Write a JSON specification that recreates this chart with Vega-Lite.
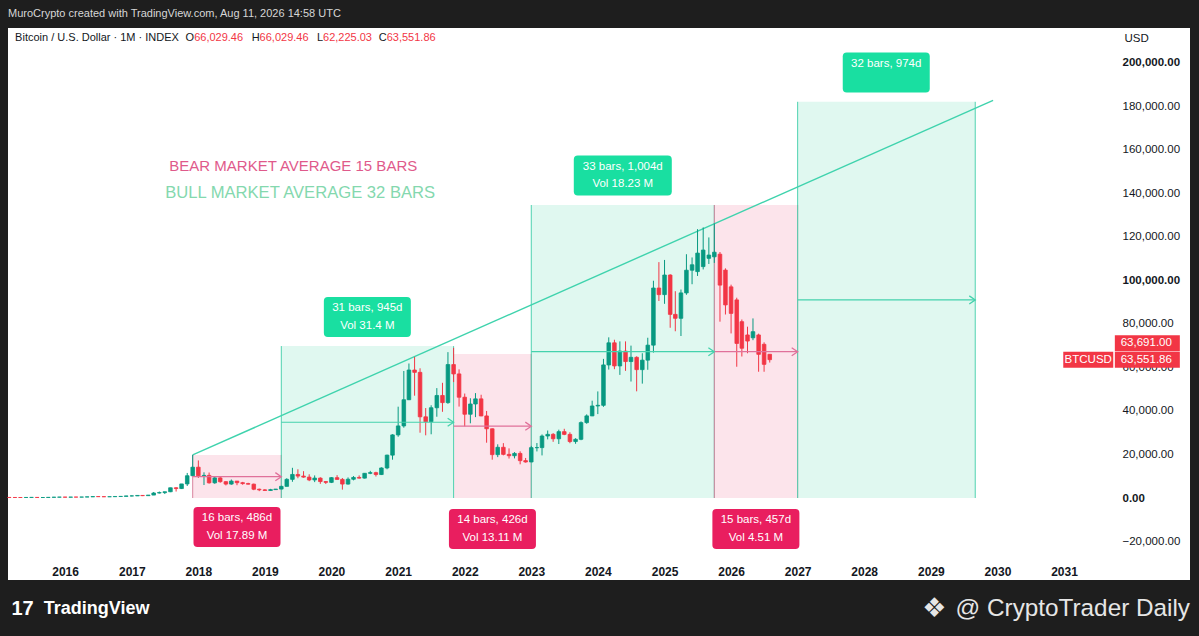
{
  "$schema": "https://vega.github.io/schema/vega-lite/v6.json",
  "width": 1182,
  "height": 552,
  "autosize": {"type": "none"},
  "padding": {"left": 8, "top": 28, "right": 9, "bottom": 56},
  "background": "#1e1e1e",
  "title": {
    "text": "MuroCrypto created with TradingView.com, Aug 11, 2026 14:58 UTC",
    "anchor": "start",
    "frame": "group",
    "color": "#d6d6d6",
    "fontSize": 11,
    "fontWeight": "normal",
    "offset": 9
  },
  "config": {
    "font": "Liberation Sans",
    "view": {"fill": "#ffffff", "stroke": null},
    "axis": {"grid": false, "domain": false, "ticks": false, "tickSize": 0}
  },
  "datasets": {
    "ranges": [
      {"kind": "bear", "start": "2017-12-01", "end": "2019-04-01", "low": 0, "top": 19800, "arrow": 9800, "mid": "2018-08-01", "lp": -13300, "label": "16 bars, 486d\nVol 17.89 M"},
      {"kind": "bull", "start": "2019-04-01", "end": "2021-11-01", "low": 0, "top": 69800, "arrow": 34800, "mid": "2020-07-16", "lp": 83100, "label": "31 bars, 945d\nVol 31.4 M"},
      {"kind": "bear", "start": "2021-11-01", "end": "2023-01-01", "low": 0, "top": 66200, "arrow": 33000, "mid": "2022-06-02", "lp": -14200, "label": "14 bars, 426d\nVol 13.11 M"},
      {"kind": "bull", "start": "2023-01-01", "end": "2025-10-01", "low": 0, "top": 134600, "arrow": 67200, "mid": "2024-05-17", "lp": 148100, "label": "33 bars, 1,004d\nVol 18.23 M"},
      {"kind": "bear", "start": "2025-10-01", "end": "2027-01-01", "low": 0, "top": 134600, "arrow": 67200, "mid": "2026-05-17", "lp": -14200, "label": "15 bars, 457d\nVol 4.51 M"},
      {"kind": "bull", "start": "2027-01-01", "end": "2029-09-01", "low": 0, "top": 182000, "arrow": 91000, "mid": "2028-05-01", "lp": 195500, "label": "32 bars, 974d\n "}
    ],
    "trend": [
      {"d": "2017-12-01", "p": 19800},
      {"d": "2029-12-08", "p": 182700}
    ],
    "notes": [
      {"kind": "bear", "d": "2017-07-26", "p": 152500, "t": "BEAR MARKET AVERAGE 15 BARS"},
      {"kind": "bull", "d": "2017-07-03", "p": 140000, "t": "BULL MARKET AVERAGE 32 BARS"}
    ],
    "header": [
      {"kind": "name", "d": "2015-04-02", "t": "Bitcoin / U.S. Dollar · 1M · INDEX"},
      {"kind": "name", "d": "2017-10-23", "t": "O"},
      {"kind": "value", "d": "2017-12-09", "t": "66,029.46"},
      {"kind": "name", "d": "2018-10-21", "t": "H"},
      {"kind": "value", "d": "2018-12-03", "t": "66,029.46"},
      {"kind": "name", "d": "2019-10-14", "t": "L"},
      {"kind": "value", "d": "2019-11-16", "t": "62,225.03"},
      {"kind": "name", "d": "2020-09-17", "t": "C"},
      {"kind": "value", "d": "2020-10-30", "t": "63,551.86"}
    ],
    "quotes": [
      {"sym": "BTCUSD", "role": "last", "p": 63551.86, "t": "63,551.86"},
      {"sym": "BTCUSD", "role": "ask", "p": 63691, "t": "63,691.00"}
    ],
    "candles": [
      {"d": "2015-03-01", "o": 254, "h": 300, "l": 235, "c": 244},
      {"d": "2015-04-01", "o": 244, "h": 262, "l": 210, "c": 236},
      {"d": "2015-05-01", "o": 236, "h": 248, "l": 225, "c": 230},
      {"d": "2015-06-01", "o": 230, "h": 268, "l": 218, "c": 263},
      {"d": "2015-07-01", "o": 263, "h": 317, "l": 253, "c": 284},
      {"d": "2015-08-01", "o": 284, "h": 285, "l": 198, "c": 230},
      {"d": "2015-09-01", "o": 230, "h": 260, "l": 225, "c": 236},
      {"d": "2015-10-01", "o": 236, "h": 327, "l": 235, "c": 314},
      {"d": "2015-11-01", "o": 314, "h": 503, "l": 309, "c": 377},
      {"d": "2015-12-01", "o": 377, "h": 467, "l": 349, "c": 430},
      {"d": "2016-01-01", "o": 430, "h": 462, "l": 354, "c": 368},
      {"d": "2016-02-01", "o": 368, "h": 448, "l": 367, "c": 437},
      {"d": "2016-03-01", "o": 437, "h": 439, "l": 407, "c": 416},
      {"d": "2016-04-01", "o": 416, "h": 467, "l": 414, "c": 448},
      {"d": "2016-05-01", "o": 448, "h": 549, "l": 436, "c": 531},
      {"d": "2016-06-01", "o": 531, "h": 779, "l": 528, "c": 673},
      {"d": "2016-07-01", "o": 673, "h": 705, "l": 610, "c": 624},
      {"d": "2016-08-01", "o": 624, "h": 627, "l": 533, "c": 575},
      {"d": "2016-09-01", "o": 575, "h": 629, "l": 567, "c": 609},
      {"d": "2016-10-01", "o": 609, "h": 732, "l": 602, "c": 698},
      {"d": "2016-11-01", "o": 698, "h": 756, "l": 679, "c": 742},
      {"d": "2016-12-01", "o": 742, "h": 979, "l": 740, "c": 963},
      {"d": "2017-01-01", "o": 963, "h": 1191, "l": 752, "c": 970},
      {"d": "2017-02-01", "o": 970, "h": 1211, "l": 935, "c": 1190},
      {"d": "2017-03-01", "o": 1190, "h": 1292, "l": 892, "c": 1080},
      {"d": "2017-04-01", "o": 1080, "h": 1366, "l": 1076, "c": 1350},
      {"d": "2017-05-01", "o": 1350, "h": 2763, "l": 1342, "c": 2300},
      {"d": "2017-06-01", "o": 2300, "h": 2980, "l": 2084, "c": 2480},
      {"d": "2017-07-01", "o": 2480, "h": 2917, "l": 1827, "c": 2875},
      {"d": "2017-08-01", "o": 2875, "h": 4736, "l": 2705, "c": 4703},
      {"d": "2017-09-01", "o": 4703, "h": 4979, "l": 2972, "c": 4339},
      {"d": "2017-10-01", "o": 4339, "h": 6470, "l": 4130, "c": 6468},
      {"d": "2017-11-01", "o": 6468, "h": 11518, "l": 5519, "c": 10233},
      {"d": "2017-12-01", "o": 10233, "h": 19800, "l": 10233, "c": 14157},
      {"d": "2018-01-01", "o": 14157, "h": 17254, "l": 9199, "c": 10221},
      {"d": "2018-02-01", "o": 10221, "h": 11800, "l": 5968, "c": 10397},
      {"d": "2018-03-01", "o": 10397, "h": 11711, "l": 6607, "c": 6973},
      {"d": "2018-04-01", "o": 6973, "h": 9759, "l": 6526, "c": 9240},
      {"d": "2018-05-01", "o": 9240, "h": 10018, "l": 7034, "c": 7494},
      {"d": "2018-06-01", "o": 7494, "h": 7755, "l": 5780, "c": 6404},
      {"d": "2018-07-01", "o": 6404, "h": 8507, "l": 6105, "c": 7780},
      {"d": "2018-08-01", "o": 7780, "h": 7785, "l": 5880, "c": 7037},
      {"d": "2018-09-01", "o": 7037, "h": 7410, "l": 6100, "c": 6626},
      {"d": "2018-10-01", "o": 6626, "h": 7000, "l": 6200, "c": 6365},
      {"d": "2018-11-01", "o": 6365, "h": 6610, "l": 3600, "c": 4039},
      {"d": "2018-12-01", "o": 4039, "h": 4310, "l": 3150, "c": 3742},
      {"d": "2019-01-01", "o": 3742, "h": 4120, "l": 3390, "c": 3457},
      {"d": "2019-02-01", "o": 3457, "h": 4200, "l": 3400, "c": 3854},
      {"d": "2019-03-01", "o": 3854, "h": 4110, "l": 3710, "c": 4105},
      {"d": "2019-04-01", "o": 4105, "h": 5640, "l": 4100, "c": 5350},
      {"d": "2019-05-01", "o": 5350, "h": 9090, "l": 5330, "c": 8575},
      {"d": "2019-06-01", "o": 8575, "h": 13880, "l": 7450, "c": 10820},
      {"d": "2019-07-01", "o": 10820, "h": 13200, "l": 9080, "c": 10080},
      {"d": "2019-08-01", "o": 10080, "h": 12330, "l": 9330, "c": 9600},
      {"d": "2019-09-01", "o": 9600, "h": 10900, "l": 7750, "c": 8300},
      {"d": "2019-10-01", "o": 8300, "h": 10380, "l": 7300, "c": 9150},
      {"d": "2019-11-01", "o": 9150, "h": 9520, "l": 6520, "c": 7560},
      {"d": "2019-12-01", "o": 7560, "h": 7750, "l": 6430, "c": 7190},
      {"d": "2020-01-01", "o": 7190, "h": 9590, "l": 6870, "c": 9350},
      {"d": "2020-02-01", "o": 9350, "h": 10500, "l": 8460, "c": 8540},
      {"d": "2020-03-01", "o": 8540, "h": 9200, "l": 3850, "c": 6410},
      {"d": "2020-04-01", "o": 6410, "h": 9460, "l": 6150, "c": 8620},
      {"d": "2020-05-01", "o": 8620, "h": 10070, "l": 8110, "c": 9450},
      {"d": "2020-06-01", "o": 9450, "h": 10380, "l": 8900, "c": 9140},
      {"d": "2020-07-01", "o": 9140, "h": 11450, "l": 8970, "c": 11350},
      {"d": "2020-08-01", "o": 11350, "h": 12470, "l": 10960, "c": 11650},
      {"d": "2020-09-01", "o": 11650, "h": 12070, "l": 9880, "c": 10780},
      {"d": "2020-10-01", "o": 10780, "h": 14100, "l": 10550, "c": 13800},
      {"d": "2020-11-01", "o": 13800, "h": 19900, "l": 13200, "c": 19700},
      {"d": "2020-12-01", "o": 19700, "h": 29300, "l": 17600, "c": 28990},
      {"d": "2021-01-01", "o": 28990, "h": 41950, "l": 28130, "c": 33110},
      {"d": "2021-02-01", "o": 33110, "h": 58350, "l": 32300, "c": 45140},
      {"d": "2021-03-01", "o": 45140, "h": 61790, "l": 45000, "c": 58800},
      {"d": "2021-04-01", "o": 58800, "h": 64850, "l": 47000, "c": 57720},
      {"d": "2021-05-01", "o": 57720, "h": 59590, "l": 30000, "c": 37300},
      {"d": "2021-06-01", "o": 37300, "h": 41330, "l": 28800, "c": 35040},
      {"d": "2021-07-01", "o": 35040, "h": 42600, "l": 29280, "c": 41460},
      {"d": "2021-08-01", "o": 41460, "h": 50480, "l": 37330, "c": 47100},
      {"d": "2021-09-01", "o": 47100, "h": 52920, "l": 39600, "c": 43820},
      {"d": "2021-10-01", "o": 43820, "h": 67000, "l": 43280, "c": 61300},
      {"d": "2021-11-01", "o": 61300, "h": 69000, "l": 53250, "c": 57000},
      {"d": "2021-12-01", "o": 57000, "h": 59100, "l": 42000, "c": 46300},
      {"d": "2022-01-01", "o": 46300, "h": 47990, "l": 32930, "c": 38480},
      {"d": "2022-02-01", "o": 38480, "h": 45820, "l": 34320, "c": 43190},
      {"d": "2022-03-01", "o": 43190, "h": 48190, "l": 37160, "c": 45540},
      {"d": "2022-04-01", "o": 45540, "h": 47440, "l": 37580, "c": 37700},
      {"d": "2022-05-01", "o": 37700, "h": 39980, "l": 25400, "c": 31800},
      {"d": "2022-06-01", "o": 31800, "h": 31960, "l": 17600, "c": 19930},
      {"d": "2022-07-01", "o": 19930, "h": 24670, "l": 18780, "c": 23300},
      {"d": "2022-08-01", "o": 23300, "h": 25210, "l": 19600, "c": 20050},
      {"d": "2022-09-01", "o": 20050, "h": 22800, "l": 18130, "c": 19420},
      {"d": "2022-10-01", "o": 19420, "h": 21090, "l": 18200, "c": 20490},
      {"d": "2022-11-01", "o": 20490, "h": 21450, "l": 15480, "c": 17170},
      {"d": "2022-12-01", "o": 17170, "h": 18390, "l": 16260, "c": 16550},
      {"d": "2023-01-01", "o": 16550, "h": 23950, "l": 16500, "c": 23130},
      {"d": "2023-02-01", "o": 23130, "h": 25250, "l": 21400, "c": 23150},
      {"d": "2023-03-01", "o": 23150, "h": 29190, "l": 19570, "c": 28480},
      {"d": "2023-04-01", "o": 28480, "h": 31000, "l": 26940, "c": 29240},
      {"d": "2023-05-01", "o": 29240, "h": 29820, "l": 25810, "c": 27220},
      {"d": "2023-06-01", "o": 27220, "h": 31390, "l": 24800, "c": 30480},
      {"d": "2023-07-01", "o": 30480, "h": 31800, "l": 28860, "c": 29230},
      {"d": "2023-08-01", "o": 29230, "h": 30200, "l": 25170, "c": 25940},
      {"d": "2023-09-01", "o": 25940, "h": 27480, "l": 24900, "c": 26970},
      {"d": "2023-10-01", "o": 26970, "h": 35200, "l": 26550, "c": 34640},
      {"d": "2023-11-01", "o": 34640, "h": 38420, "l": 34100, "c": 37720},
      {"d": "2023-12-01", "o": 37720, "h": 44700, "l": 37620, "c": 42280},
      {"d": "2024-01-01", "o": 42280, "h": 48970, "l": 38550, "c": 42580},
      {"d": "2024-02-01", "o": 42580, "h": 63910, "l": 41880, "c": 61130},
      {"d": "2024-03-01", "o": 61130, "h": 73800, "l": 59000, "c": 71290},
      {"d": "2024-04-01", "o": 71290, "h": 72700, "l": 59170, "c": 60670},
      {"d": "2024-05-01", "o": 60670, "h": 71950, "l": 56550, "c": 67490},
      {"d": "2024-06-01", "o": 67490, "h": 71950, "l": 58400, "c": 62680},
      {"d": "2024-07-01", "o": 62680, "h": 70000, "l": 53500, "c": 64630},
      {"d": "2024-08-01", "o": 64630, "h": 65100, "l": 49000, "c": 58970},
      {"d": "2024-09-01", "o": 58970, "h": 66500, "l": 52550, "c": 63330},
      {"d": "2024-10-01", "o": 63330, "h": 73620, "l": 58900, "c": 70220},
      {"d": "2024-11-01", "o": 70220, "h": 99800, "l": 66800, "c": 96450},
      {"d": "2024-12-01", "o": 96450, "h": 108350, "l": 90500, "c": 93430},
      {"d": "2025-01-01", "o": 93430, "h": 109360, "l": 89200, "c": 102430},
      {"d": "2025-02-01", "o": 102430, "h": 102780, "l": 78200, "c": 84350},
      {"d": "2025-03-01", "o": 84350, "h": 95000, "l": 76600, "c": 82550},
      {"d": "2025-04-01", "o": 82550, "h": 95760, "l": 74420, "c": 94210},
      {"d": "2025-05-01", "o": 94210, "h": 111980, "l": 93350, "c": 104640},
      {"d": "2025-06-01", "o": 104640, "h": 110500, "l": 98200, "c": 107140},
      {"d": "2025-07-01", "o": 104000, "h": 123500, "l": 102000, "c": 112500},
      {"d": "2025-08-01", "o": 106300, "h": 124300, "l": 105000, "c": 113900},
      {"d": "2025-09-01", "o": 110100, "h": 119700, "l": 107500, "c": 111600},
      {"d": "2025-10-01", "o": 110800, "h": 126200, "l": 108000, "c": 112900},
      {"d": "2025-11-01", "o": 112000, "h": 113000, "l": 81000, "c": 97800},
      {"d": "2025-12-01", "o": 104700, "h": 105500, "l": 84300, "c": 88700},
      {"d": "2026-01-01", "o": 97000, "h": 98000, "l": 75600, "c": 84800},
      {"d": "2026-02-01", "o": 91000, "h": 92000, "l": 60300, "c": 71000},
      {"d": "2026-03-01", "o": 81000, "h": 82000, "l": 65000, "c": 68800},
      {"d": "2026-04-01", "o": 74900, "h": 78700, "l": 66500, "c": 72100},
      {"d": "2026-05-01", "o": 73600, "h": 82500, "l": 72500, "c": 76400},
      {"d": "2026-06-01", "o": 74900, "h": 75500, "l": 58000, "c": 66000},
      {"d": "2026-07-01", "o": 70600, "h": 71500, "l": 58000, "c": 61400},
      {"d": "2026-08-01", "o": 66029.46, "h": 66029.46, "l": 62225.03, "c": 63551.86}
    ]
  },
  "layer": [
    {
      "data": {"name": "ranges"},
      "mark": {"type": "rect"},
      "encoding": {
        "x": {
          "field": "start",
          "type": "temporal",
          "scale": {
            "type": "utc",
            "nice": false,
            "padding": 0,
            "domain": [
              {"year": 2015, "month": 2, "date": 22, "utc": true},
              {"year": 2032, "month": 11, "date": 22, "utc": true}
            ]
          },
          "axis": {
            "orient": "bottom",
            "title": null,
            "values": [
              {"year": 2016, "utc": true}, {"year": 2017, "utc": true}, {"year": 2018, "utc": true},
              {"year": 2019, "utc": true}, {"year": 2020, "utc": true}, {"year": 2021, "utc": true},
              {"year": 2022, "utc": true}, {"year": 2023, "utc": true}, {"year": 2024, "utc": true},
              {"year": 2025, "utc": true}, {"year": 2026, "utc": true}, {"year": 2027, "utc": true},
              {"year": 2028, "utc": true}, {"year": 2029, "utc": true}, {"year": 2030, "utc": true},
              {"year": 2031, "utc": true}
            ],
            "format": "%Y",
            "labelFontWeight": "bold",
            "labelFontSize": 12,
            "labelColor": "#131722",
            "labelPadding": -9,
            "labelBaseline": "middle",
            "labelFlush": false,
            "labelOverlap": false
          }
        },
        "x2": {"field": "end"},
        "y": {
          "field": "top",
          "type": "quantitative",
          "scale": {"domain": [-37660, 215900], "nice": false, "zero": false, "padding": 0},
          "axis": {
            "orient": "right",
            "values": [-20000, 0, 20000, 40000, 60000, 80000, 100000, 120000, 140000, 160000, 180000, 200000],
            "format": ",.2f",
            "labelAlign": "left",
            "labelPadding": -68,
            "labelFontSize": 11.5,
            "labelColor": "#131722",
            "labelFontWeight": {"condition": {"test": "datum.value % 100000 === 0", "value": "bold"}, "value": "normal"},
            "labelFlush": false,
            "labelOverlap": false,
            "title": "USD",
            "titleAngle": 0,
            "titleX": -66,
            "titleY": 10,
            "titleAlign": "left",
            "titleBaseline": "middle",
            "titleFontSize": 11.5,
            "titleFontWeight": "normal",
            "titleColor": "#131722"
          }
        },
        "y2": {"field": "low"},
        "color": {"condition": {"test": "datum.kind === 'bull'", "value": "#e0f8f0"}, "value": "#fce4eb"}
      }
    },
    {
      "data": {"name": "ranges"},
      "transform": [{"filter": "datum.kind === 'bear'"}],
      "mark": {"type": "rule", "color": "#e2809f", "strokeWidth": 1},
      "encoding": {
        "x": {"field": "end", "type": "temporal"},
        "y": {"field": "top", "type": "quantitative", "axis": {"orient": "right"}},
        "y2": {"field": "low"}
      }
    },
    {
      "data": {"name": "ranges"},
      "transform": [{"filter": "datum.kind === 'bull'"}],
      "mark": {"type": "rule", "color": "#4fd2b0", "strokeWidth": 1},
      "encoding": {
        "x": {"field": "start", "type": "temporal"},
        "y": {"field": "top", "type": "quantitative", "axis": {"orient": "right"}},
        "y2": {"field": "low"}
      }
    },
    {
      "data": {"name": "ranges"},
      "transform": [{"filter": "datum.kind === 'bull'"}],
      "mark": {"type": "rule", "color": "#4fd2b0", "strokeWidth": 1},
      "encoding": {
        "x": {"field": "end", "type": "temporal"},
        "y": {"field": "top", "type": "quantitative", "axis": {"orient": "right"}},
        "y2": {"field": "low"}
      }
    },
    {
      "data": {"name": "ranges"},
      "transform": [{"filter": "datum.kind === 'bear' && year(datum.start) !== 2021"}],
      "mark": {"type": "rule", "color": "#d9849f", "strokeWidth": 1},
      "encoding": {
        "x": {"field": "start", "type": "temporal"},
        "y": {"field": "top", "type": "quantitative", "axis": {"orient": "right"}},
        "y2": {"field": "low"}
      }
    },
    {
      "data": {"name": "trend"},
      "mark": {"type": "line", "color": "#3fd3ad", "strokeWidth": 1.4},
      "encoding": {
        "x": {"field": "d", "type": "temporal"},
        "y": {"field": "p", "type": "quantitative", "axis": {"orient": "right"}}
      }
    },
    {
      "data": {"name": "candles"},
      "mark": {"type": "rule", "strokeWidth": 1},
      "encoding": {
        "x": {"field": "d", "type": "temporal"},
        "y": {"field": "l", "type": "quantitative", "axis": {"orient": "right"}},
        "y2": {"field": "h"},
        "color": {"condition": {"test": "datum.c >= datum.o", "value": "#089981"}, "value": "#f23645"}
      }
    },
    {
      "data": {"name": "candles"},
      "mark": {"type": "bar", "width": 3.6, "strokeWidth": 0.8},
      "encoding": {
        "x": {"field": "d", "type": "temporal"},
        "y": {"field": "o", "type": "quantitative", "axis": {"orient": "right"}},
        "y2": {"field": "c"},
        "fill": {"condition": {"test": "datum.c >= datum.o", "value": "#089981"}, "value": "#f23645"},
        "stroke": {"condition": {"test": "datum.c >= datum.o", "value": "#089981"}, "value": "#f23645"}
      }
    },
    {
      "data": {"name": "ranges"},
      "mark": {"type": "rule", "strokeWidth": 1.2},
      "encoding": {
        "x": {"field": "start", "type": "temporal"},
        "x2": {"field": "end"},
        "y": {"field": "arrow", "type": "quantitative", "axis": {"orient": "right"}},
        "color": {"condition": {"test": "datum.kind === 'bull'", "value": "#45d2ad"}, "value": "#e0719a"}
      }
    },
    {
      "data": {"name": "ranges"},
      "mark": {"type": "point", "shape": "M-1.7,-1.15L0,0L-1.7,1.15", "size": 49, "filled": false, "strokeWidth": 1.3, "opacity": 1},
      "encoding": {
        "x": {"field": "end", "type": "temporal"},
        "y": {"field": "arrow", "type": "quantitative", "axis": {"orient": "right"}},
        "color": {"condition": {"test": "datum.kind === 'bull'", "value": "#45d2ad"}, "value": "#e0719a"}
      }
    },
    {
      "data": {"name": "ranges"},
      "transform": [{"filter": "length(datum.label) <= 26"}],
      "mark": {"type": "point", "filled": true, "opacity": 1, "strokeWidth": 0, "size": 7569,
               "shape": "M-0.908,-0.46L0.908,-0.46Q1,-0.46 1,-0.368L1,0.368Q1,0.46 0.908,0.46L-0.908,0.46Q-1,0.46 -1,0.368L-1,-0.368Q-1,-0.46 -0.908,-0.46Z"},
      "encoding": {
        "x": {"field": "mid", "type": "temporal"},
        "y": {"field": "lp", "type": "quantitative", "axis": {"orient": "right"}},
        "color": {"condition": {"test": "datum.kind === 'bull'", "value": "#19dfa1"}, "value": "#e91e5f"}
      }
    },
    {
      "data": {"name": "ranges"},
      "transform": [{"filter": "length(datum.label) > 26"}],
      "mark": {"type": "point", "filled": true, "opacity": 1, "strokeWidth": 0, "size": 9604,
               "shape": "M-0.918,-0.408L0.918,-0.408Q1,-0.408 1,-0.326L1,0.326Q1,0.408 0.918,0.408L-0.918,0.408Q-1,0.408 -1,0.326L-1,-0.326Q-1,-0.408 -0.918,-0.408Z"},
      "encoding": {
        "x": {"field": "mid", "type": "temporal"},
        "y": {"field": "lp", "type": "quantitative", "axis": {"orient": "right"}},
        "color": {"condition": {"test": "datum.kind === 'bull'", "value": "#19dfa1"}, "value": "#e91e5f"}
      }
    },
    {
      "data": {"name": "ranges"},
      "mark": {"type": "text", "align": "center", "baseline": "middle", "lineBreak": "\n", "lineHeight": 17.5, "dy": -8.75, "fontSize": 11.5, "color": "#ffffff"},
      "encoding": {
        "x": {"field": "mid", "type": "temporal"},
        "y": {"field": "lp", "type": "quantitative", "axis": {"orient": "right"}},
        "text": {"field": "label"}
      }
    },
    {
      "data": {"name": "notes"},
      "mark": {"type": "text", "align": "left", "baseline": "middle"},
      "encoding": {
        "x": {"field": "d", "type": "temporal"},
        "y": {"field": "p", "type": "quantitative", "axis": {"orient": "right"}},
        "text": {"field": "t"},
        "size": {"condition": {"test": "datum.kind === 'bear'", "value": 15}, "value": 16.6},
        "color": {"condition": {"test": "datum.kind === 'bear'", "value": "#df5a8b"}, "value": "#84d8ae"}
      }
    },
    {
      "data": {"name": "header"},
      "mark": {"type": "text", "align": "left", "baseline": "middle", "fontSize": 11},
      "encoding": {
        "x": {"field": "d", "type": "temporal"},
        "y": {"datum": 211300, "type": "quantitative", "axis": {"orient": "right"}},
        "text": {"field": "t"},
        "color": {"condition": {"test": "datum.kind === 'value'", "value": "#f23645"}, "value": "#131722"}
      }
    },
    {
      "data": {"name": "quotes"},
      "transform": [{"filter": "datum.role === 'last'"}],
      "mark": {"type": "point", "filled": true, "opacity": 1, "strokeWidth": 0, "color": "#f23645", "size": 2500, "shape": "M-1,-0.32L1,-0.32L1,0.32L-1,0.32Z"},
      "encoding": {
        "x": {"datum": {"year": 2031, "month": 5, "date": 14, "utc": true}, "type": "temporal"},
        "y": {"field": "p", "type": "quantitative", "axis": {"orient": "right"}}
      }
    },
    {
      "data": {"name": "quotes"},
      "transform": [{"filter": "datum.role === 'last'"}],
      "mark": {"type": "text", "align": "center", "baseline": "middle", "fontSize": 11.5, "color": "#ffffff"},
      "encoding": {
        "x": {"datum": {"year": 2031, "month": 5, "date": 14, "utc": true}, "type": "temporal"},
        "y": {"field": "p", "type": "quantitative", "axis": {"orient": "right"}},
        "text": {"field": "sym"}
      }
    },
    {
      "data": {"name": "quotes"},
      "transform": [{"filter": "datum.role === 'last'"}],
      "mark": {"type": "point", "filled": true, "opacity": 1, "strokeWidth": 0, "color": "#f23645", "size": 4225, "shape": "M-1,-0.246L1,-0.246L1,0.246L-1,0.246Z"},
      "encoding": {
        "x": {"datum": {"year": 2032, "month": 4, "date": 2, "utc": true}, "type": "temporal"},
        "y": {"field": "p", "type": "quantitative", "axis": {"orient": "right"}}
      }
    },
    {
      "data": {"name": "quotes"},
      "transform": [{"filter": "datum.role === 'ask'"}],
      "mark": {"type": "point", "filled": true, "opacity": 1, "strokeWidth": 0, "color": "#f23645", "size": 4225, "yOffset": -16, "shape": "M-1,-0.246L1,-0.246L1,0.246L-1,0.246Z"},
      "encoding": {
        "x": {"datum": {"year": 2032, "month": 4, "date": 2, "utc": true}, "type": "temporal"},
        "y": {"field": "p", "type": "quantitative", "axis": {"orient": "right"}}
      }
    },
    {
      "data": {"name": "quotes"},
      "transform": [{"filter": "datum.role === 'last'"}],
      "mark": {"type": "text", "align": "left", "baseline": "middle", "fontSize": 11.5, "color": "#ffffff"},
      "encoding": {
        "x": {"datum": {"year": 2031, "month": 11, "date": 8, "utc": true}, "type": "temporal"},
        "y": {"field": "p", "type": "quantitative", "axis": {"orient": "right"}},
        "text": {"field": "t"}
      }
    },
    {
      "data": {"name": "quotes"},
      "transform": [{"filter": "datum.role === 'ask'"}],
      "mark": {"type": "text", "align": "left", "baseline": "middle", "fontSize": 11.5, "yOffset": -16, "color": "#ffffff"},
      "encoding": {
        "x": {"datum": {"year": 2031, "month": 11, "date": 8, "utc": true}, "type": "temporal"},
        "y": {"field": "p", "type": "quantitative", "axis": {"orient": "right"}},
        "text": {"field": "t"}
      }
    },
    {
      "data": {"values": [{"t": "17"}]},
      "mark": {"type": "text", "align": "left", "baseline": "middle", "fontSize": 20, "fontWeight": 900, "color": "#ffffff"},
      "encoding": {
        "x": {"datum": {"year": 2015, "month": 3, "date": 13, "utc": true}, "type": "temporal"},
        "y": {"datum": -51000, "type": "quantitative", "axis": {"orient": "right"}},
        "text": {"field": "t"}
      }
    },
    {
      "data": {"values": [{"t": "TradingView"}]},
      "mark": {"type": "text", "align": "left", "baseline": "middle", "fontSize": 18, "fontWeight": "bold", "color": "#ffffff"},
      "encoding": {
        "x": {"datum": {"year": 2015, "month": 9, "date": 6, "utc": true}, "type": "temporal"},
        "y": {"datum": -51000, "type": "quantitative", "axis": {"orient": "right"}},
        "text": {"field": "t"}
      }
    },
    {
      "data": {"values": [{"t": "❖"}]},
      "mark": {"type": "text", "align": "center", "baseline": "middle", "fontSize": 27, "font": "DejaVu Sans", "color": "#e6e6e6"},
      "encoding": {
        "x": {"datum": {"year": 2029, "month": 1, "date": 20, "utc": true}, "type": "temporal"},
        "y": {"datum": -51000, "type": "quantitative", "axis": {"orient": "right"}},
        "text": {"field": "t"}
      }
    },
    {
      "data": {"values": [{"t": "@ CryptoTrader Daily"}]},
      "mark": {"type": "text", "align": "right", "baseline": "middle", "fontSize": 24.3, "color": "#e6e6e6"},
      "encoding": {
        "x": {"datum": {"year": 2032, "month": 11, "date": 22, "utc": true}, "type": "temporal"},
        "y": {"datum": -51000, "type": "quantitative", "axis": {"orient": "right"}},
        "text": {"field": "t"}
      }
    }
  ]
}
